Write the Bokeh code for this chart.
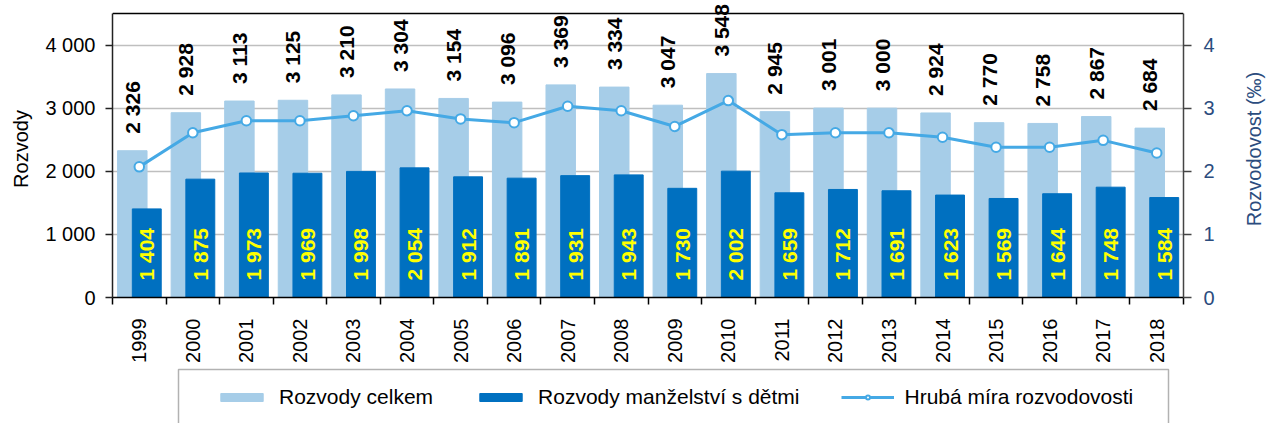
import math
from bokeh.plotting import figure
from bokeh.layouts import column, row
from bokeh.models import (ColumnDataSource, Range1d, LinearAxis, FixedTicker,
                          Legend, LegendItem, Span, BoxAnnotation)
from bokeh.embed import file_html
from bokeh.resources import INLINE
from bokeh.core.properties import value

years = ["1999", "2000", "2001", "2002", "2003", "2004", "2005", "2006", "2007", "2008",
         "2009", "2010", "2011", "2012", "2013", "2014", "2015", "2016", "2017", "2018"]
total = [2326, 2928, 3113, 3125, 3210, 3304, 3154, 3096, 3369, 3334,
         3047, 3548, 2945, 3001, 3000, 2924, 2770, 2758, 2867, 2684]
children = [1404, 1875, 1973, 1969, 1998, 2054, 1912, 1891, 1931, 1943,
            1730, 2002, 1659, 1712, 1691, 1623, 1569, 1644, 1748, 1584]
rate = [2.07, 2.61, 2.80, 2.80, 2.88, 2.96, 2.83, 2.77, 3.03, 2.96,
        2.71, 3.12, 2.58, 2.61, 2.61, 2.54, 2.38, 2.38, 2.49, 2.29]
series_names = ["Rozvody celkem", "Rozvody manželství s dětmi", "Hrubá míra rozvodovosti"]
left_title = "Rozvody"
right_title = "Rozvodovost (‰)"

left_ticks = [0, 1000, 2000, 3000, 4000]
right_ticks = [0, 1, 2, 3, 4]
left_max = 4500
right_max = 4.5

FNAME = "Liberation Sans"
FONT = value(FNAME)
NAVY = "#2B4C7E"
LIGHT = "#A6CDE8"
DARK = "#0070C0"
LINE = "#45A9E5"

W = 1266
H = 423
SIDE_W = 26            # strip on the right carrying the right axis title
MAIN_W = W - SIDE_W
TOP_H = 366
FRAME_L = 112
FRAME_W = 1071
FRAME_H = 297          # frame from the top of the figure down to the x axis
AXIS_H = 284           # part of the frame covered by the value range
stretch = FRAME_H / AXIS_H


def fmt(v):
    return f"{v:,}".replace(",", " ")


n = len(years)
xc = [i + 0.5 for i in range(n)]
src = ColumnDataSource(dict(
    xc=xc,
    xl=[x - 0.13 for x in xc],
    xd=[x + 0.14 for x in xc],
    total=total, children=children, rate=rate,
    tl=[fmt(v) for v in total], cl=[fmt(v) for v in children],
    zero=[0] * n,
))

p = figure(width=MAIN_W, height=TOP_H, x_range=Range1d(0, n),
           y_range=Range1d(0, left_max * stretch),
           output_backend="svg", toolbar_location=None,
           min_border_left=FRAME_L, min_border_right=MAIN_W - FRAME_L - FRAME_W,
           min_border_top=0, min_border_bottom=TOP_H - FRAME_H)
p.extra_y_ranges = {"rate": Range1d(0, right_max * stretch)}
p.outline_line_color = None
p.background_fill_color = "white"
p.border_fill_color = "white"

p.xgrid.visible = False
p.ygrid.grid_line_color = "#BFBFBF"
p.ygrid.grid_line_width = 1.5
p.ygrid.ticker = FixedTicker(ticks=left_ticks)

p.add_layout(Span(location=left_max, dimension="width", line_color="black", line_width=1.5))

p.vbar(x="xl", top="total", width=0.55, color=LIGHT, source=src)
p.vbar(x="xd", top="children", width=0.54, color=DARK, source=src)
p.line(x="xc", y="rate", y_range_name="rate", line_color=LINE, line_width=3, source=src)
p.scatter(x="xc", y="rate", y_range_name="rate", size=9.5, fill_color="white",
          line_color=LINE, line_width=2, source=src)

p.text(x="xl", y="total", text="tl", angle=math.pi / 2, text_align="left",
       text_baseline="middle", y_offset=-17, text_font=FONT, text_font_style="bold",
       text_font_size="21px", text_color="black", source=src)
p.text(x="xd", y="zero", text="cl", angle=math.pi / 2, text_align="left",
       text_baseline="middle", y_offset=-17, text_font=FONT, text_font_style="bold",
       text_font_size="21px", text_color="#FFFF00", source=src)

# left axis
ya = p.yaxis[0]
ya.bounds = (0, left_max)
ya.ticker = FixedTicker(ticks=left_ticks)
ya.major_label_overrides = {t: fmt(t) for t in left_ticks}
ya.axis_label = left_title
ya.axis_label_text_font = FNAME
ya.axis_label_text_font_size = "20px"
ya.axis_label_text_font_style = "normal"
ya.axis_label_text_color = "black"
ya.axis_label_standoff = 10
ya.major_label_text_font = FNAME
ya.major_label_text_font_size = "20px"
ya.major_label_text_color = "black"
ya.major_label_standoff = 10
ya.major_tick_in = 0
ya.major_tick_out = 7
ya.minor_tick_line_color = None
ya.axis_line_color = "#222222"
ya.axis_line_width = 1.5
ya.major_tick_line_color = "#222222"
ya.major_tick_line_width = 1.5

# right axis (its title is drawn in the side strip)
ra = LinearAxis(y_range_name="rate", ticker=FixedTicker(ticks=right_ticks),
                bounds=(0, right_max))
ra.major_label_text_font = FNAME
ra.major_label_text_font_size = "20px"
ra.major_label_text_color = NAVY
ra.major_label_standoff = 12
ra.major_tick_in = 0
ra.major_tick_out = 8
ra.minor_tick_line_color = None
ra.axis_line_color = "#444444"
ra.axis_line_width = 1.5
ra.major_tick_line_color = "#444444"
ra.major_tick_line_width = 1.5
p.add_layout(ra, "right")

# bottom axis
xa = p.xaxis[0]
xa.ticker = FixedTicker(ticks=xc, minor_ticks=list(range(n + 1)))
xa.major_label_overrides = {x: y for x, y in zip(xc, years)}
xa.major_label_orientation = math.pi / 2
xa.major_label_text_font = FNAME
xa.major_label_text_font_size = "20px"
xa.major_label_text_color = "black"
xa.major_label_standoff = 14
xa.major_tick_line_color = None
xa.major_tick_in = 0
xa.major_tick_out = 0
xa.minor_tick_in = 0
xa.minor_tick_out = 7
xa.minor_tick_line_color = "black"
xa.minor_tick_line_width = 1.5
xa.axis_line_color = "black"
xa.axis_line_width = 1.5

# legend strip below; its frame lines up with the main frame, ranges in page pixels
p2 = figure(width=MAIN_W, height=H - TOP_H,
            x_range=Range1d(FRAME_L, FRAME_L + FRAME_W), y_range=Range1d(H, TOP_H),
            x_axis_type=None, y_axis_type=None, output_backend="svg", toolbar_location=None,
            min_border=0)
p2.outline_line_color = None
p2.background_fill_color = "white"
p2.border_fill_color = "white"
p2.add_layout(BoxAnnotation(left=178, right=1168, top=369, bottom=H + 20,
                            fill_color=None, line_color="black", line_width=1.5))

dummy = ColumnDataSource(dict(x=[float("nan")], y=[float("nan")]))
l_light = p2.vbar(x="x", top="y", width=0.5, color=LIGHT, source=dummy)
l_dark = p2.vbar(x="x", top="y", width=0.5, color=DARK, source=dummy)
l_line = p2.line(x="x", y="y", line_color=LINE, line_width=3, source=dummy)
l_pts = p2.scatter(x="x", y="y", size=9.5, fill_color="white", line_color=LINE,
                   line_width=2, source=dummy)

legend = Legend(items=[
    LegendItem(label=series_names[0], renderers=[l_light]),
    LegendItem(label=series_names[1], renderers=[l_dark]),
    LegendItem(label=series_names[2], renderers=[l_line, l_pts]),
], orientation="horizontal", location=(219 - 4 - FRAME_L, 14))
legend.border_line_color = None
legend.background_fill_alpha = 0
legend.glyph_width = 53
legend.glyph_height = 10
legend.label_height = 24
legend.label_text_font = FNAME
legend.label_text_font_size = "21px"
legend.label_text_color = "black"
legend.label_standoff = 11
legend.spacing = 41
legend.padding = 10
legend.margin = 0
p2.add_layout(legend, "center")

# side strip with the right axis title
p3 = figure(width=SIDE_W, height=FRAME_H, x_range=Range1d(0, 1), y_range=Range1d(0, 1),
            x_axis_type=None, y_axis_type=None, output_backend="svg", toolbar_location=None,
            min_border=0)
p3.outline_line_color = None
p3.background_fill_color = "white"
p3.border_fill_color = "white"
p3.text(x=[0.5], y=[0.5], text=[right_title], angle=math.pi / 2, text_align="center",
        text_baseline="middle", text_font=FONT, text_font_size="20px", text_color=NAVY)

layout = row(column(p, p2, spacing=0), p3, spacing=0)
open("out.html", "w").write(file_html(layout, INLINE))
